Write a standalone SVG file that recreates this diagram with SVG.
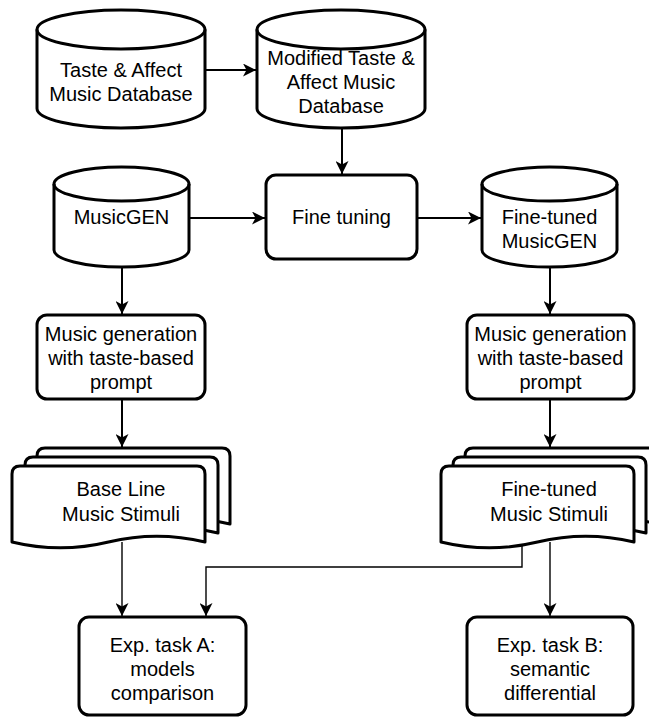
<svg xmlns="http://www.w3.org/2000/svg" xmlns:xlink="http://www.w3.org/1999/xlink" width="649" height="717" viewBox="0 0 649 717">
  <style>
    .shape { fill: #ffffff; stroke: #000000; stroke-width: 3; stroke-linejoin: round; }
    .inner { fill: none; stroke: #000000; stroke-width: 3; }
    .lbl { font-family: "Liberation Sans", Arial, Helvetica, sans-serif; font-size: 20px; fill: #000000; text-anchor: middle; }
    .edge { fill: none; stroke: #000000; stroke-width: 2; }
    .edge-thin { fill: none; stroke: #000000; stroke-width: 1.4; }
  </style>
  <defs>
    <marker id="arrow" viewBox="0 0 13 13" refX="13" refY="6.5" markerWidth="13" markerHeight="13" markerUnits="userSpaceOnUse" orient="auto">
      <path d="M0,0 L13,6.5 L0,13 L3.5,6.5 Z" fill="#000000"/>
    </marker>
    <path id="doc" d="M0,8 Q0,0 8,0 L185,0 Q193,0 193,8 L193,76 Q144.75,64.3 96.5,76 Q48.25,87.7 0,76 Z"/>
  </defs>

  <g id="connectors">
    <path class="edge" d="M205,70 L256,70" marker-end="url(#arrow)"/>
    <path class="edge" d="M342,128 L342,174" marker-end="url(#arrow)"/>
    <path class="edge" d="M189,218 L265,218" marker-end="url(#arrow)"/>
    <path class="edge" d="M417,218 L481,218" marker-end="url(#arrow)"/>
    <path class="edge" d="M122,267 L122,314" marker-end="url(#arrow)"/>
    <path class="edge" d="M550,267 L550,314" marker-end="url(#arrow)"/>
    <path class="edge" d="M122,399 L122,447" marker-end="url(#arrow)"/>
    <path class="edge" d="M550,399 L550,447" marker-end="url(#arrow)"/>
    <path class="edge-thin" d="M122,542 L122,616" marker-end="url(#arrow)"/>
    <path class="edge-thin" d="M550,542 L550,616" marker-end="url(#arrow)"/>
    <path class="edge-thin" d="M522,545 L522,567 L206,567 L206,616" marker-end="url(#arrow)"/>
  </g>

  <g id="taste-affect-db">
    <path class="shape" d="M37,29.5 A84,19.5 0 0 1 205,29.5 L205,108.5 A84,19.5 0 0 1 37,108.5 Z"/>
    <path class="inner" d="M37,29.5 A84,19.5 0 0 0 205,29.5"/>
    <text class="lbl" x="121" y="77">Taste &amp; Affect</text>
    <text class="lbl" x="121" y="101">Music Database</text>
  </g>

  <g id="modified-db">
    <path class="shape" d="M257,29.5 A84,19.5 0 0 1 425,29.5 L425,108.5 A84,19.5 0 0 1 257,108.5 Z"/>
    <path class="inner" d="M257,29.5 A84,19.5 0 0 0 425,29.5"/>
    <text class="lbl" x="341" y="65">Modified Taste &amp;</text>
    <text class="lbl" x="341" y="89">Affect Music</text>
    <text class="lbl" x="341" y="113">Database</text>
  </g>

  <g id="musicgen">
    <path class="shape" d="M54,184 A67.5,17 0 0 1 189,184 L189,250 A67.5,17 0 0 1 54,250 Z"/>
    <path class="inner" d="M54,184 A67.5,17 0 0 0 189,184"/>
    <text class="lbl" x="121.5" y="224">MusicGEN</text>
  </g>

  <g id="fine-tuning">
    <rect class="shape" x="266" y="175" width="151" height="84" rx="10" ry="10"/>
    <text class="lbl" x="341.5" y="224">Fine tuning</text>
  </g>

  <g id="finetuned-musicgen">
    <path class="shape" d="M482,184 A67.5,17 0 0 1 617,184 L617,250 A67.5,17 0 0 1 482,250 Z"/>
    <path class="inner" d="M482,184 A67.5,17 0 0 0 617,184"/>
    <text class="lbl" x="549.5" y="224">Fine-tuned</text>
    <text class="lbl" x="549.5" y="248">MusicGEN</text>
  </g>

  <g id="generation-left">
    <rect class="shape" x="37" y="315" width="168" height="84" rx="10" ry="10"/>
    <text class="lbl" x="121" y="341">Music generation</text>
    <text class="lbl" x="121" y="365">with taste-based</text>
    <text class="lbl" x="121" y="389">prompt</text>
  </g>

  <g id="generation-right">
    <rect class="shape" x="467" y="315" width="167" height="84" rx="10" ry="10"/>
    <text class="lbl" x="550.5" y="341">Music generation</text>
    <text class="lbl" x="550.5" y="365">with taste-based</text>
    <text class="lbl" x="550.5" y="389">prompt</text>
  </g>

  <g id="baseline-stimuli">
    <use xlink:href="#doc" href="#doc" class="shape" transform="translate(37,448)"/>
    <use xlink:href="#doc" href="#doc" class="shape" transform="translate(25,457)"/>
    <use xlink:href="#doc" href="#doc" class="shape" transform="translate(12,466)"/>
    <text class="lbl" x="121" y="496">Base Line</text>
    <text class="lbl" x="121" y="521">Music Stimuli</text>
  </g>

  <g id="finetuned-stimuli">
    <use xlink:href="#doc" href="#doc" class="shape" transform="translate(465,448)"/>
    <use xlink:href="#doc" href="#doc" class="shape" transform="translate(453,457)"/>
    <use xlink:href="#doc" href="#doc" class="shape" transform="translate(441,466)"/>
    <text class="lbl" x="549" y="496">Fine-tuned</text>
    <text class="lbl" x="549" y="521">Music Stimuli</text>
  </g>

  <g id="task-a">
    <rect class="shape" x="79" y="617" width="167" height="98" rx="10" ry="10"/>
    <text class="lbl" x="162.5" y="652">Exp. task A:</text>
    <text class="lbl" x="162.5" y="676">models</text>
    <text class="lbl" x="162.5" y="700">comparison</text>
  </g>

  <g id="task-b">
    <rect class="shape" x="467" y="617" width="166" height="98" rx="10" ry="10"/>
    <text class="lbl" x="550" y="652">Exp. task B:</text>
    <text class="lbl" x="550" y="676">semantic</text>
    <text class="lbl" x="550" y="700">differential</text>
  </g>
</svg>
